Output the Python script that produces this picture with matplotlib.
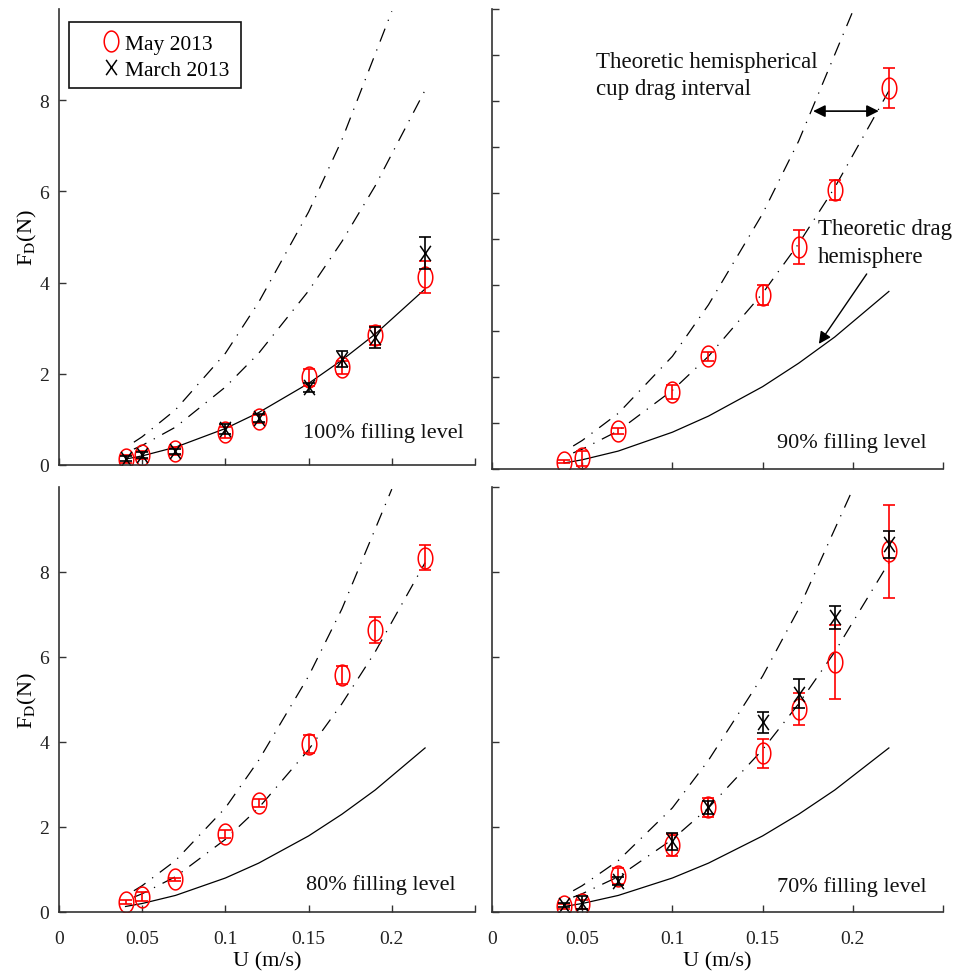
import numpy as np
import matplotlib
matplotlib.use('Agg')
import matplotlib.pyplot as plt
from matplotlib.path import Path
from matplotlib.patches import Rectangle

plt.rcParams['font.family'] = ['Liberation Serif', 'DejaVu Serif']
plt.rcParams['mathtext.fontset'] = 'stix'
plt.rcParams['lines.scale_dashes'] = False

# theoretical curves (same in every panel)
U_th = [0.04, 0.05, 0.07, 0.10, 0.12, 0.15, 0.17, 0.19, 0.22]
F_hemi = [0.13, 0.20, 0.39, 0.80, 1.15, 1.79, 2.30, 2.87, 3.86]
U_low = [0.045, 0.05, 0.07, 0.10, 0.12, 0.15, 0.17, 0.19, 0.22]
F_low = [0.35, 0.43, 0.83, 1.71, 2.45, 3.82, 4.90, 6.12, 8.22]
U_up = [0.045, 0.05, 0.07, 0.10, 0.12, 0.15, 0.17, 0.20]
F_up = [0.50, 0.62, 1.21, 2.45, 3.57, 5.55, 7.13, 9.95]

U = [0.04, 0.05, 0.07, 0.10, 0.12, 0.15, 0.17, 0.19, 0.22]

# 100 % filling level
may100 = [0.13, 0.22, 0.31, 0.72, 1.01, 1.92, 2.14, 2.84, 4.13]
may100_err = [0.08, 0.08, 0.08, 0.12, 0.08, 0.18, 0.14, 0.20, 0.35]
mar100 = [0.14, 0.22, 0.30, 0.79, 1.03, 1.70, 2.32, 2.80, 4.65]
mar100_err = [0.05, 0.06, 0.06, 0.10, 0.08, 0.10, 0.18, 0.23, 0.36]

# 90 % filling level
may90 = [0.16, 0.23, 0.83, 1.67, 2.45, 3.78, 4.82, 6.07, 8.28]
may90_err = [0.04, 0.16, 0.06, 0.15, 0.10, 0.22, 0.37, 0.22, 0.43]

# 80 % filling level
may80 = [0.24, 0.36, 0.77, 1.84, 2.57, 3.95, 5.58, 6.64, 8.34]
may80_err = [0.05, 0.10, 0.03, 0.10, 0.10, 0.21, 0.22, 0.31, 0.30]

# 70 % filling level
may70 = [0.13, 0.18, 0.85, 1.58, 2.46, 3.73, 4.77, 5.88, 8.49]
may70_err = [0.05, 0.10, 0.18, 0.26, 0.22, 0.34, 0.38, 0.87, 1.09]
mar70 = [0.16, 0.22, 0.73, 1.67, 2.46, 4.46, 5.14, 6.93, 8.65]
mar70_err = [0.05, 0.15, 0.10, 0.20, 0.15, 0.24, 0.35, 0.26, 0.31]

xticks = [0, 0.05, 0.1, 0.15, 0.2, 0.25]
xticklabels = ['0', '0.05', '0.1', '0.15', '0.2', '']

t = np.linspace(0, 2 * np.pi, 61)
ellipse = Path(np.column_stack([0.7 * np.cos(t), np.sin(t)]), closed=True)
xmark = Path([(-0.7, -1), (0.7, 1), (-0.7, 1), (0.7, -1)],
             [Path.MOVETO, Path.LINETO, Path.MOVETO, Path.LINETO])

dashdot = (0, (10, 6, 0.9, 6))

fig = plt.figure(figsize=(9.68, 9.79), dpi=100)
W, H = 968.0, 979.0
boxes = {
    'tl': (59, 10, 475, 466),
    'tr': (492, 10, 943, 470),
    'bl': (59, 488, 475, 913),
    'br': (492, 488, 943, 913),
}
axes = {}
for k, (x0, y0, x1, y1) in boxes.items():
    axes[k] = fig.add_axes([x0 / W, 1 - y1 / H, (x1 - x0) / W, (y1 - y0) / H])


def base(ax):
    ax.plot(U_th, F_hemi, color='k', lw=0.9)
    ax.plot(U_low, F_low, color='k', lw=0.9, linestyle=dashdot)
    ax.plot(U_up, F_up, color='k', lw=0.9, linestyle=dashdot)
    ax.set_xlim(0, 0.25)
    ax.set_ylim(0, 10)
    for s in ['top', 'right']:
        ax.spines[s].set_visible(False)
    for s in ['left', 'bottom']:
        ax.spines[s].set_color('#333333')
        ax.spines[s].set_linewidth(1.2)
    ax.tick_params(direction='in', length=5, width=1, colors='#333333',
                   labelsize=14, labelcolor='#222222')
    ax.set_xticks(xticks)


def may(ax, F, err):
    ax.errorbar(U, F, yerr=err, fmt='none', ecolor='red', elinewidth=1.2,
                capsize=4, capthick=1.2)
    ax.plot(U, F, linestyle='none', marker=ellipse, markersize=15,
            markerfacecolor='none', markeredgecolor='red', markeredgewidth=1.1,
            label='May 2013')


def march(ax, F, err):
    ax.errorbar(U, F, yerr=err, fmt='none', ecolor='black', elinewidth=1.2,
                capsize=4, capthick=1.2)
    ax.plot(U, F, linestyle='none', marker=xmark, markersize=11,
            markerfacecolor='none', markeredgecolor='black', markeredgewidth=1.1,
            label='March 2013')


for ax in axes.values():
    base(ax)

may(axes['tl'], may100, may100_err)
march(axes['tl'], mar100, mar100_err)
may(axes['tr'], may90, may90_err)
may(axes['bl'], may80, may80_err)
may(axes['br'], may70, may70_err)
march(axes['br'], mar70, mar70_err)

for k in ['tl', 'bl']:
    axes[k].set_yticks([0, 2, 4, 6, 8])
    axes[k].set_ylabel(r'F$_{\mathrm{D}}$(N)', fontsize=16, labelpad=0)
axes['tr'].set_yticks(np.arange(0, 11, 1))
axes['tr'].set_yticklabels([])
axes['br'].set_yticks(np.arange(0, 11, 2))
axes['br'].set_yticklabels([])

for k in ['tl', 'tr']:
    axes[k].set_xticklabels([])
for k in ['bl', 'br']:
    axes[k].set_xticklabels(xticklabels)
    axes[k].tick_params(axis='x', pad=13)
    axes[k].set_xlabel('U (m/s)', fontsize=16, labelpad=3)
axes['tl'].tick_params(axis='y', pad=7)
axes['bl'].tick_params(axis='y', pad=7)

txt = dict(fontsize=16, color='#111111')
axes['tl'].text(0.1464, 0.72, '100% filling level', va='center', **txt)
axes['tr'].text(0.158, 0.58, '90% filling level', va='center', **txt)
axes['bl'].text(0.1486, 0.65, '80% filling level', va='center', **txt)
axes['br'].text(0.158, 0.60, '70% filling level', va='center', **txt)

# legend
ax = axes['tl']
ax.add_patch(Rectangle((10 / 416, 1 - 79 / 456), 172 / 416, 66 / 456,
                       transform=ax.transAxes, fill=False, edgecolor='#111111',
                       lw=1.2, zorder=5))
ax.legend(loc='upper left', bbox_to_anchor=(0.1, 0.955), frameon=False,
          fontsize=15.5, handlelength=0.6, handletextpad=0.35,
          labelspacing=0.28, borderaxespad=0, borderpad=0.2)

# annotations
ax = axes['tr']
ax.text(0.0575, 8.57, 'Theoretic hemispherical\ncup drag interval', va='center',
        linespacing=1.4, fontsize=16.5, color='#111111')
ax.annotate('', xy=(0.178, 7.78), xytext=(0.2144, 7.78),
            arrowprops=dict(arrowstyle='<|-|>', color='k', lw=1.2,
                            mutation_scale=18, shrinkA=0, shrinkB=0))
ax.text(0.1807, 4.92, 'Theoretic drag\nhemisphere', va='center',
        linespacing=1.4, fontsize=16.5, color='#111111')
ax.annotate('', xy=(0.1812, 2.72), xytext=(0.2077, 4.24),
            arrowprops=dict(arrowstyle='-|>', color='k', lw=1.0,
                            mutation_scale=18, shrinkA=0, shrinkB=0))

fig.savefig('out.png', dpi=100)
